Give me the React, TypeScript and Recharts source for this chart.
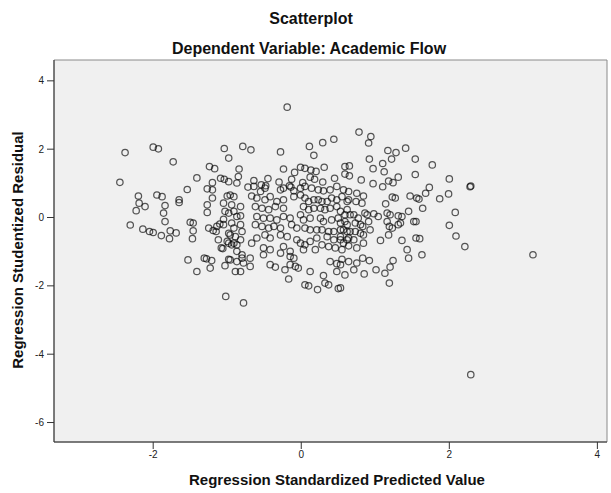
import React from "react";
import {
  ScatterChart, Scatter, XAxis, YAxis, ReferenceArea,
} from "recharts";

/* 축 눈금 */
const X_TICKS = [-2, 0, 2, 4];
const Y_TICKS = [-6, -4, -2, 0, 2, 4];
const X_DOMAIN: [number, number] = [-3.34, 4.13];
const Y_DOMAIN: [number, number] = [-6.57, 4.61];

/* 예측값 < -1.3 */
const leftPts: [number, number][] = [
  [-2.45, 1.03], [-2.38, 1.90], [-2.31, -0.22], [-2.23, 0.20], [-2.20, 0.63], [-2.19, 0.42],
  [-2.14, -0.34], [-2.11, 0.32], [-2.05, -0.41], [-2.00, 2.06], [-1.93, 2.01], [-2.00, -0.44],
  [-1.95, 0.66], [-1.88, 0.61], [-1.84, 0.35], [-1.86, 0.13], [-1.84, -0.12], [-1.89, -0.53],
  [-1.77, -0.39], [-1.69, -0.45], [-1.78, -0.62], [-1.73, 1.63], [-1.65, 0.52], [-1.65, 0.44],
  [-1.54, 0.82], [-1.53, -1.24], [-1.50, -0.14], [-1.46, -0.16], [-1.46, -0.39], [-1.47, -0.62],
  [-1.41, 1.16], [-1.41, -1.58],
];

/* -1.3 ~ -0.65 */
const midLeftPts: [number, number][] = [
  [-1.24, 1.49], [-1.17, 1.43], [-1.20, 1.02], [-1.09, 1.15], [-1.04, 1.12], [-1.27, 0.84],
  [-1.20, 0.81], [-1.20, 0.57], [-1.00, 0.63], [-1.04, 2.02], [-0.98, 1.74], [-1.27, 0.37],
  [-1.27, 0.15], [-1.05, 0.42], [-1.03, 0.18], [-1.10, -0.19], [-1.05, -0.05], [-1.25, -0.31],
  [-1.19, -0.38], [-1.15, -0.41], [-1.12, -0.65], [-1.08, -0.89], [-1.06, -0.91], [-0.98, -0.46],
  [-0.98, -0.75], [-1.31, -1.19], [-1.28, -1.21], [-1.21, -1.26], [-1.23, -1.48], [-1.03, -1.41],
  [-0.98, -1.22], [-1.02, -2.31], [-0.96, 0.66], [-0.91, 0.61], [-0.94, 0.37], [-0.98, 0.13],
  [-0.91, 0.18], [-0.87, 0.03], [-1.14, -0.26], [-1.05, -0.21], [-0.94, -0.16], [-0.91, -0.31],
  [-0.82, -0.21], [-0.80, -0.41], [-0.96, -0.51], [-0.89, -0.56], [-0.82, -0.65], [-1.00, -0.70],
  [-0.91, -0.75], [-0.87, -0.80], [-0.94, -0.80], [-0.87, -0.99], [-0.96, -1.24], [-0.87, -1.29],
  [-0.80, -1.19], [-0.78, -1.33], [-0.89, -1.58], [-0.82, -1.58], [-0.78, -2.50], [-0.87, 1.01],
  [-0.98, 1.05], [-0.79, 2.08], [-0.68, 1.98], [-0.84, 1.42], [-0.85, 1.20], [-0.72, 0.89],
  [-0.64, 1.08], [-0.67, 0.63], [-0.82, 0.32], [-0.82, 0.05], [-0.80, -1.09], [-0.69, -1.19],
  [-0.69, -1.43], [-0.67, -0.75],
];

/* 중앙 상단 (잔차 > 0.7) */
const centerTopPts: [number, number][] = [
  [-0.19, 3.23], [-0.28, 1.92], [0.11, 2.08], [0.29, 2.19], [0.44, 2.29], [0.17, 1.82],
  [-0.24, 1.42], [-0.45, 1.14], [-0.54, 0.96], [-0.48, 0.93], [-0.30, 1.04], [-0.13, 1.12],
  [-0.09, 1.32], [-0.01, 1.47], [0.05, 1.44], [0.13, 1.39], [0.20, 1.35], [0.31, 1.47],
  [0.02, 1.02], [0.12, 1.18], [0.18, 1.12], [0.29, 1.04], [0.45, 1.15], [0.59, 1.49],
  [0.65, 1.51], [0.59, 1.27], [-0.16, 0.93], [-0.14, 0.89], [-0.64, 0.91], [-0.55, 0.76],
  [-0.49, 0.86], [-0.28, 0.81], [-0.24, 0.86], [-0.10, 0.78], [-0.01, 0.86], [0.05, 0.91],
  [0.14, 0.86], [0.23, 0.81], [0.30, 0.78], [0.39, 0.81], [0.48, 0.91], [0.57, 0.81], [0.64, 0.76],
];

/* 중앙 밀집 구간 */
const centerCorePts: [number, number][] = [
  [-0.60, 0.57], [-0.49, 0.52], [-0.42, 0.61], [-0.33, 0.47], [-0.24, 0.52], [-0.10, 0.61],
  [-0.01, 0.66], [0.05, 0.57], [0.10, 0.47], [0.17, 0.52], [0.23, 0.52], [0.28, 0.47],
  [0.35, 0.47], [0.41, 0.57], [0.48, 0.52], [0.55, 0.61], [0.62, 0.47],
  [-0.62, 0.32], [-0.53, 0.27], [-0.44, 0.23], [-0.35, 0.32], [-0.24, 0.27], [0.03, 0.32],
  [0.10, 0.23], [0.17, 0.27], [0.26, 0.27], [0.32, 0.23], [0.39, 0.27], [0.48, 0.32],
  [0.53, 0.18], [0.62, 0.23],
  [-0.60, 0.03], [-0.51, -0.02], [-0.42, -0.02], [-0.33, -0.07], [-0.24, 0.03], [-0.15, -0.02],
  [-0.01, 0.08], [0.03, -0.07], [0.12, -0.02], [0.26, -0.02], [0.30, -0.12], [0.41, -0.07],
  [0.50, -0.02], [0.59, -0.12],
  [-0.62, -0.21], [-0.53, -0.26], [-0.44, -0.31], [-0.37, -0.26], [-0.28, -0.31], [-0.13, -0.21],
  [-0.06, -0.31], [0.05, -0.31], [0.12, -0.36], [0.21, -0.36], [0.28, -0.36], [0.37, -0.41],
  [0.44, -0.41], [0.53, -0.36], [0.62, -0.41],
  [-0.60, -0.60], [-0.49, -0.51], [-0.42, -0.60], [-0.28, -0.51], [-0.19, -0.56], [-0.06, -0.65],
  [-0.01, -0.75], [0.05, -0.80], [0.12, -0.70], [0.21, -0.60], [0.35, -0.56], [0.44, -0.65],
  [0.53, -0.65], [0.64, -0.60],
  [-0.51, -0.89], [-0.42, -0.94], [-0.24, -0.85], [-0.15, -0.99], [0.03, -0.94], [0.19, -0.94],
  [0.28, -0.80], [0.37, -0.85], [0.46, -0.89], [0.55, -0.94],
];

/* 중앙 하단 (잔차 < -1) */
const centerLowPts: [number, number][] = [
  [-0.51, -1.09], [-0.15, -1.14], [-0.10, -1.19], [-0.42, -1.38], [-0.35, -1.45], [-0.22, -1.53],
  [-0.15, -1.38], [-0.08, -1.43], [-0.04, -1.48], [-0.17, -1.80], [0.12, -1.58], [0.39, -1.29],
  [0.48, -1.35], [0.53, -1.38], [0.48, -1.58], [0.55, -1.22], [0.30, -1.70], [0.37, -1.97],
  [0.32, -1.92], [0.05, -1.97], [0.10, -2.00], [0.22, -2.11], [0.50, -2.08], [-0.28, -1.04],
];

/* 예측값 > 0.5 */
const rightPts: [number, number][] = [
  [0.78, 2.50], [0.94, 2.37], [0.91, 2.18], [1.17, 1.96], [1.28, 1.90], [1.41, 2.03],
  [0.92, 1.71], [1.10, 1.58], [1.22, 1.71], [1.54, 1.71], [1.77, 1.54], [0.97, 1.43],
  [1.12, 1.34], [0.65, 1.22], [0.81, 1.10], [1.18, 1.07], [1.24, 1.02], [1.31, 1.18],
  [1.54, 1.26], [0.97, 0.99], [1.10, 0.90], [2.00, 1.13], [2.29, 0.92], [2.28, 0.90],
  [1.73, 0.88], [1.68, 0.71], [0.75, 0.71], [0.84, 0.63], [1.23, 0.60], [1.27, 0.57],
  [1.47, 0.63], [1.56, 0.57], [1.59, 0.54], [1.87, 0.55], [1.99, 0.69], [0.64, 0.52],
  [0.74, 0.47], [0.82, 0.42], [1.14, 0.40], [1.64, 0.27], [1.45, 0.18], [2.08, 0.15],
  [0.59, 0.08], [0.66, 0.08], [0.71, 0.08], [0.77, -0.02], [0.86, 0.13], [0.89, 0.08],
  [0.98, 0.11], [1.04, 0.03], [1.16, 0.13], [1.20, 0.08], [1.31, 0.05], [1.36, 0.03],
  [1.34, -0.16], [1.52, -0.12], [1.55, -0.12], [1.16, -0.12], [1.19, -0.26], [1.23, -0.31],
  [1.18, -0.51], [1.07, -0.67], [1.31, -0.21], [2.00, -0.23], [0.53, -0.16], [0.62, -0.21],
  [0.73, -0.16], [0.80, -0.21], [0.83, -0.26], [0.91, -0.12], [0.93, -0.36], [0.57, -0.36],
  [0.66, -0.41], [0.73, -0.41], [0.80, -0.46], [0.84, -0.51], [0.53, -0.56], [0.62, -0.65],
  [0.71, -0.65], [1.36, -0.67], [1.55, -0.60], [1.60, -0.62], [2.09, -0.54], [2.21, -0.85],
  [0.75, -0.89], [0.84, -0.75], [0.57, -0.75], [0.64, -0.83], [1.43, -0.94], [1.63, -1.09],
  [1.45, -1.19], [0.64, -1.29], [0.75, -1.33], [0.83, -1.19], [0.92, -1.26], [1.24, -1.26],
  [1.20, -1.45], [1.01, -1.53], [1.13, -1.63], [0.71, -1.53], [0.59, -1.68], [0.85, -1.65],
  [1.19, -1.92], [0.53, -2.06],
];

/* 이상치 */
const outlierPts: [number, number][] = [
  [3.13, -1.09], [2.29, -4.60],
];

const points = [
  ...leftPts, ...midLeftPts, ...centerTopPts, ...centerCorePts,
  ...centerLowPts, ...rightPts, ...outlierPts,
].map(([x, y]) => ({ x, y }));

const FONT = '"Liberation Sans", Arial, sans-serif';

const RingDot = (props: any) => {
  const { cx, cy } = props;
  if (cx == null || cy == null) return null;
  return (
    <circle cx={cx} cy={cy} r={3.2} fill="none"
      stroke="#000" strokeOpacity={0.65} strokeWidth={1.25} />
  );
};

export default function App() {
  const tick = { fill: "#222", fontSize: 10, fontFamily: FONT };
  const title = { position: "absolute" as const, transform: "translateX(-50%)", fontWeight: "bold" as const,
    whiteSpace: "nowrap" as const, color: "#111", lineHeight: "18px" };
  return (
    <div style={{ position: "absolute", left: 0, top: 0, width: 611, height: 493, background: "#fff", fontFamily: FONT }}>
      <style>{"body{margin:0}"}</style>
      <div style={{ ...title, left: 311, top: 10, fontSize: 16 }}>Scatterplot</div>
      <div style={{ ...title, left: 309, top: 40, fontSize: 16 }}>Dependent Variable: Academic Flow</div>

      <ScatterChart width={611} height={493}
        margin={{ top: 60, right: 4, bottom: 21, left: 14 }}
        style={{ position: "absolute", left: 0, top: 0 }}>
        <ReferenceArea x1={X_DOMAIN[0]} x2={X_DOMAIN[1]} y1={Y_DOMAIN[0]} y2={Y_DOMAIN[1]}
          fill="#f0f0f0" fillOpacity={1} stroke="#8a8a8a" strokeWidth={1} ifOverflow="extendDomain" />
        <XAxis type="number" dataKey="x" domain={X_DOMAIN} ticks={X_TICKS}
          allowDataOverflow height={30} tickSize={7} tickMargin={2}
          tick={tick} axisLine={{ stroke: "#333" }} tickLine={{ stroke: "#333" }} />
        <YAxis type="number" dataKey="y" domain={Y_DOMAIN} ticks={Y_TICKS}
          allowDataOverflow width={40} tickSize={7} tickMargin={3}
          tick={tick} axisLine={{ stroke: "#333" }} tickLine={{ stroke: "#333" }} />
        <Scatter data={points} shape={RingDot} isAnimationActive={false} />
      </ScatterChart>

      <div style={{ ...title, left: 337, top: 471, fontSize: 15 }}>
        Regression Standardized Predicted Value
      </div>
      <div style={{ ...title, left: 18, top: 250, fontSize: 15,
        transform: "translate(-50%, -50%) rotate(-90deg)" }}>
        Regression Studentized Residual
      </div>
    </div>
  );
}
